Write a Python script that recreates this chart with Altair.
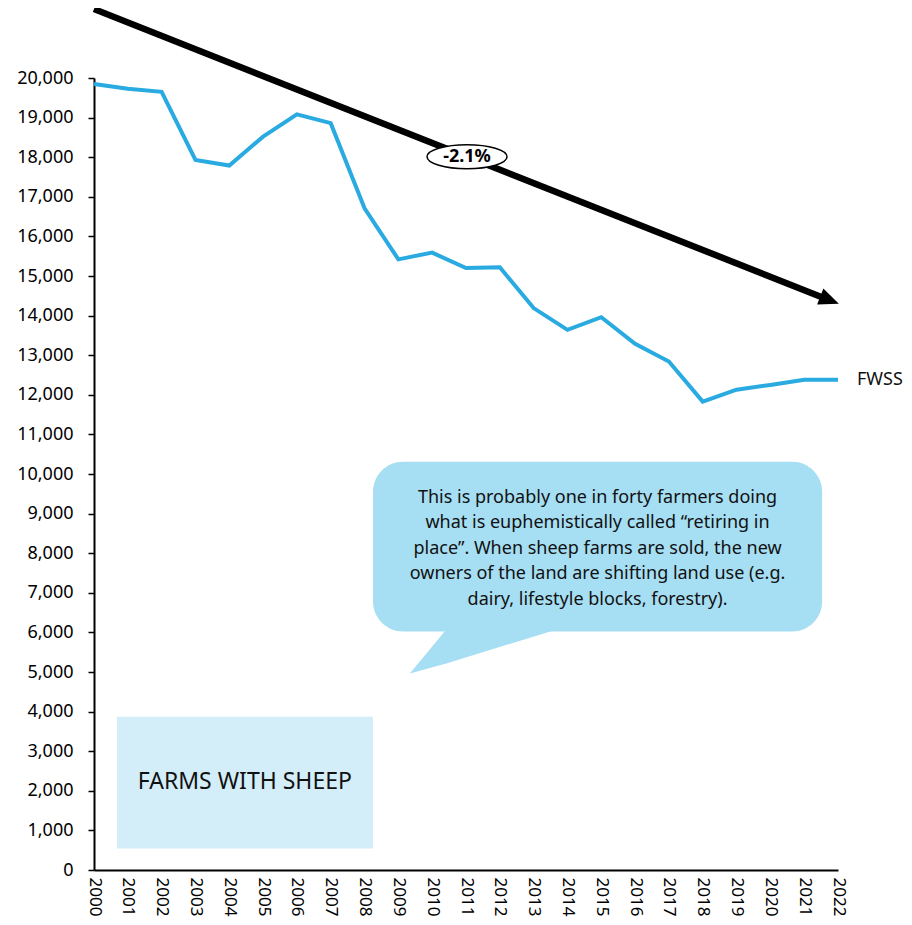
import altair as alt
import pandas as pd

# ---- data ----
years = list(range(2000, 2023))
farms = [19850, 19730, 19650, 17930, 17790, 18520, 19080, 18860, 16710, 15420,
         15590, 15200, 15220, 14190, 13640, 13960, 13290, 12840, 11830, 12130,
         12250, 12380, 12380]
series_label = "FWSS"
y_ticks = list(range(0, 20001, 1000))

trend_label = "-2.1%"
box_title = "FARMS WITH SHEEP"
callout_lines = [
    "This is probably one in forty farmers doing",
    "what is euphemistically called \u201cretiring in",
    "place\u201d. When sheep farms are sold, the new",
    "owners of the land are shifting land use (e.g.",
    "dairy, lifestyle blocks, forestry).",
]

# annotation anchors (data units: year, farms)
arrow_start = (2000, 21740)
arrow_end = (2021.75, 14390)
ellipse_at = (2011.03, 18010)
callout_box = (2008.25, 2021.53, 10310, 6020)
tail_x = [2009.34, 2010.44, 2013.78]
tail_top = [4960, 6100, 6100]
tail_bottom = [4960, 5220, 6100]
callout_first_line = (2014.89, 9400)
title_box = (2000.68, 2008.25, 3870, 540)
title_center = (2004.46, 2230)

FONT = "Noto Sans"
LINE_COLOR = "#29ABE2"

xs = alt.Scale(domain=[2000, 2022], nice=False, zero=False)
ys = alt.Scale(domain=[0, 20000], nice=False, zero=True)
xa = alt.Axis(values=years, format="d", title=None, ticks=False, labelAngle=90,
              labelPadding=7, labelFontSize=17, labelFont=FONT, labelColor="black",
              domainColor="black", domainWidth=2, grid=False, labelOverlap=False)
ya = alt.Axis(values=y_ticks, format=",.0f", title=None, tickSize=6, tickWidth=1.5,
              tickColor="black", labelPadding=15, labelFontSize=18, labelFont=FONT,
              labelColor="black", domainColor="black", domainWidth=2, grid=False,
              labelOverlap=False)


def X(f):
    return alt.X(f, type="quantitative", scale=xs, axis=xa)


def Y(f):
    return alt.Y(f, type="quantitative", scale=ys, axis=ya)


line_df = pd.DataFrame({"year": years, "farms": farms})

callout_df = pd.DataFrame({"x0": [callout_box[0]], "x1": [callout_box[1]],
                           "y0": [callout_box[2]], "y1": [callout_box[3]]})
callout = alt.Chart(callout_df).mark_rect(color="#A6DEF3", cornerRadius=30).encode(
    x=X("x0"), x2="x1", y=Y("y0"), y2="y1")

tail_df = pd.DataFrame({"x": tail_x, "top": tail_top, "bot": tail_bottom})
tail = alt.Chart(tail_df).mark_area(color="#A6DEF3", opacity=1).encode(
    x=X("x"), y=Y("top"), y2="bot")

callout_text = alt.Chart(pd.DataFrame({"x": [callout_first_line[0]],
                                       "y": [callout_first_line[1]],
                                       "t": [callout_lines]})).mark_text(
    font=FONT, fontSize=18, color="#111111", align="center", baseline="middle",
    lineHeight=25.5).encode(x=X("x"), y=Y("y"), text="t")

tb_df = pd.DataFrame({"x0": [title_box[0]], "x1": [title_box[1]],
                      "y0": [title_box[2]], "y1": [title_box[3]]})
title_rect = alt.Chart(tb_df).mark_rect(color="#D4EEF9").encode(
    x=X("x0"), x2="x1", y=Y("y0"), y2="y1")
title_text = alt.Chart(pd.DataFrame({"x": [title_center[0]], "y": [title_center[1]],
                                     "t": [box_title]})).mark_text(
    font=FONT, fontSize=23, color="#111111", align="center", baseline="middle").encode(
    x=X("x"), y=Y("y"), text="t")

line = alt.Chart(line_df).mark_line(color=LINE_COLOR, strokeWidth=4).encode(
    x=X("year"), y=Y("farms"))

end_label = alt.Chart(pd.DataFrame({"year": [years[-1]], "farms": [farms[-1]],
                                    "t": [series_label]})).mark_text(
    font=FONT, fontSize=18, color="#111111", align="left", baseline="middle", dx=19).encode(
    x=X("year"), y=Y("farms"), text="t")

arrow_df = pd.DataFrame({"x0": [arrow_start[0]], "y0": [arrow_start[1]],
                         "x1": [arrow_end[0]], "y1": [arrow_end[1]]})
arrow = alt.Chart(arrow_df).mark_rule(color="black", strokeWidth=6.5).encode(
    x=X("x0"), y=Y("y0"), x2="x1", y2="y1")

head_path = "M -1 -0.85 L 1 0 L -1 0.85 Z"
head = alt.Chart(pd.DataFrame({"x": [arrow_end[0]], "y": [arrow_end[1]]})).mark_point(
    shape=head_path, size=400, filled=True, color="black", opacity=1, angle=21.6,
    strokeWidth=0).encode(x=X("x"), y=Y("y"))

ellipse_path = ("M -1 0 C -1 -0.1657 -0.5523 -0.3 0 -0.3 C 0.5523 -0.3 1 -0.1657 1 0 "
                "C 1 0.1657 0.5523 0.3 0 0.3 C -0.5523 0.3 -1 0.1657 -1 0 Z")
ell_df = pd.DataFrame({"x": [ellipse_at[0]], "y": [ellipse_at[1]], "t": [trend_label]})
ellipse = alt.Chart(ell_df).mark_point(
    shape=ellipse_path, size=6400, filled=True, fill="white", stroke="black",
    strokeWidth=1.5, opacity=1).encode(x=X("x"), y=Y("y"))
ell_text = alt.Chart(ell_df).mark_text(
    font=FONT, fontSize=18, fontWeight="bold", color="black", align="center",
    baseline="middle").encode(x=X("x"), y=Y("y"), text="t")

chart = alt.layer(
    line, callout, tail, callout_text, title_rect, title_text, end_label,
    arrow, head, ellipse, ell_text
).properties(
    width=744, height=792,
    autosize=alt.AutoSizeParams(type="none"),
    padding={"left": 86, "top": 70, "right": 66, "bottom": 47},
    view=alt.ViewBackground(stroke=None, strokeWidth=0),
).configure_view(stroke=None, strokeWidth=0).configure_axis(grid=False).configure(
    background="white")

chart.save("out.html", embed_options={"renderer": "svg", "actions": False})
